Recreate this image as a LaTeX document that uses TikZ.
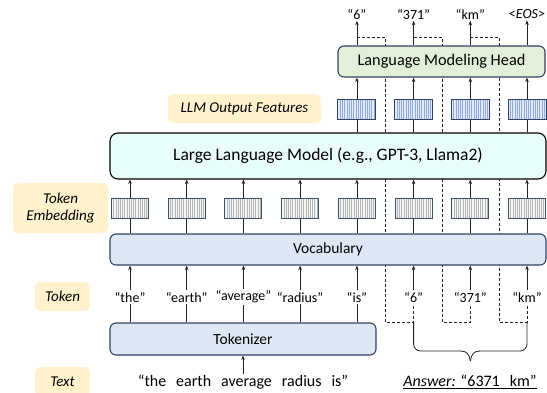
\documentclass[tikz,border=0pt]{standalone}
\usepackage{fontspec}
\setmainfont{Carlito}
\usetikzlibrary{arrows.meta,calc}
\definecolor{ylw}{HTML}{FFF2CC}
\definecolor{headfill}{HTML}{E2F0D9}
\definecolor{llmfill}{HTML}{E9FDFB}
\definecolor{vocfill}{HTML}{DEE7F4}
\definecolor{navy}{HTML}{2F4366}
\definecolor{featfill}{HTML}{E4EBF8}
\definecolor{featline}{HTML}{8FA9DA}
\definecolor{embfill}{HTML}{F6F6F6}
\definecolor{embline}{HTML}{B4B4B4}
\definecolor{lnk}{HTML}{222222}
\pgfdeclarelayer{bg}
\pgfsetlayers{bg,main}
\begin{document}
\begin{tikzpicture}[x=1pt,y=-1pt,
  lab/.style={fill=ylw,rounded corners=5pt,inner sep=0pt,align=center,font=\fontsize{15}{18}\selectfont\itshape},
  bigbox/.style={draw=navy,line width=1.1pt,rounded corners=6pt,inner sep=0pt,font=\fontsize{15.5}{18}\selectfont},
  featbox/.style={draw=navy,line width=0.9pt,fill=featfill,minimum width=38pt,minimum height=20pt,inner sep=0pt,
    path picture={\foreach \k in {1,...,16} \draw[featline,line width=0.45pt] ([xshift=\k*2.25pt]path picture bounding box.south west) -- ++(0pt,30pt);}},
  embbox/.style={draw=navy!80!gray,line width=0.9pt,fill=embfill,minimum width=37pt,minimum height=20pt,inner sep=0pt,
    path picture={\foreach \k in {1,...,16} \draw[embline,line width=0.45pt] ([xshift=\k*2.2pt]path picture bounding box.south west) -- ++(0pt,30pt);}},
  toklab/.style={inner sep=1.5pt,font=\fontsize{14}{16}\selectfont},
  toplab/.style={inner sep=1.5pt,font=\fontsize{14}{16}\selectfont},
  arr/.style={lnk,line width=0.8pt,-{Stealth[length=4.5pt,width=3.5pt]}},
  ln/.style={lnk,line width=0.8pt},
  dsh/.style={lnk,line width=0.8pt,dash pattern=on 3pt off 2pt}
]
\useasboundingbox (0,0) rectangle (547,392);
\path[clip] (0,0) rectangle (547,392);

% columns
\foreach \i/\x in {1/130,2/186.7,3/243.4,4/300.1,5/356.9,6/413.6,7/470.3,8/527}
  \coordinate (c\i) at (\x,0);

% left labels
\node[lab,minimum width=153pt,minimum height=29pt] (lof) at (244.5,108.5) {LLM Output Features};
\node[lab,minimum width=95pt,minimum height=50pt] (lemb) at (60.5,208) {Token\\[-1pt]Embedding};
\node[lab,minimum width=55pt,minimum height=29pt] (ltok) at (62.5,296.5) {Token};
\node[lab,minimum width=55pt,minimum height=29pt] (ltxt) at (62.5,381.5) {Text};

% big boxes
\node[bigbox,fill=headfill,minimum width=207pt,minimum height=31pt,font=\fontsize{16.3}{18}\selectfont] (head) at (441.5,61.5) {Language Modeling Head};
\node[bigbox,draw=black,fill=llmfill,rounded corners=8pt,minimum width=436pt,minimum height=46pt,font=\fontsize{17.5}{20}\selectfont] (llm) at (328,156) {Large Language Model (e.g., GPT-3, Llama2)};
\node[bigbox,fill=vocfill,minimum width=436pt,minimum height=31pt] (voc) at (328,249.5) {Vocabulary};
\node[bigbox,fill=vocfill,minimum width=266pt,minimum height=32pt] (tokz) at (243,339) {Tokenizer};

% feature boxes
\foreach \i in {5,...,8} \node[featbox] (f\i) at (c\i |- 0,109) {};
% embedding boxes
\foreach \i in {1,...,8} \node[embbox] (e\i) at (c\i |- 0,208) {};

% token labels
\foreach \i/\t in {1/the,2/earth,3/average,4/radius,5/is,6/6,7/371,8/km}
  \node[toklab] (t\i) at (c\i |- 0,297) {“\t”};
% top labels
\foreach \i/\t in {5/“6”,6/“371”,7/“km”,8/<\textit{EOS}>}
  \node[toplab] (o\i) at (c\i |- 0,14) {\t};

% text and answer
\node[inner sep=1pt,font=\fontsize{16}{18}\selectfont] (txt) at (243,382) {“the\hspace{10pt}earth\hspace{10pt}average\hspace{10pt}radius\hspace{10pt}is”};
\node[inner sep=1pt,font=\fontsize{16}{18}\selectfont] (ans) at (470,382) {\underline{\textit{Answer:} “6371\hspace{10pt}km”}};

\begin{pgfonlayer}{bg}
  % vocab -> llm
  \foreach \i in {1,...,8} \draw[arr] (voc.north -| c\i) -- (llm.south -| c\i);
  % llm -> head
  \foreach \i in {5,...,8} \draw[arr] (llm.north -| c\i) -- (head.south -| c\i);
  % head -> outputs
  \foreach \i in {5,...,8} \draw[arr] (head.north -| c\i) -- (o\i.south);
  % tokens -> vocab
  \foreach \i in {1,...,8} \draw[arr] (t\i.north) -- (voc.south -| c\i);
  % tokenizer -> tokens
  \foreach \i in {1,...,5} \draw[ln] (tokz.north -| c\i) -- (t\i.south);
  % text -> tokenizer
  \draw[arr] (txt.north -| tokz.south) -- (tokz.south);
  % feedback dashed loops
  \foreach \i/\j/\x in {5/6/385,6/7/442,7/8/499}{
    \coordinate (a\i) at (c\i |- 0,37);
    \coordinate (b\i) at (\x,322);
    \draw[dsh] (a\i) -| (b\i) -- (b\i -| c\j) -- (t\j.south);
  }
  % brace
  \coordinate (bl) at (c6 |- 0,322);
  \coordinate (br) at (c8 |- 0,322);
  \coordinate (bt) at (c7 |- 0,361);
  \draw[ln,rounded corners=7pt] (bl) -- ++(0,29) -- ($(bt)+(-9,-10)$);
  \draw[ln] ($(bt)+(-9.5,-10)$) .. controls ($(bt)+(-3,-10)$) and ($(bt)+(-1,-6)$) .. (bt);
  \draw[ln] ($(bt)+(9.5,-10)$) .. controls ($(bt)+(3,-10)$) and ($(bt)+(1,-6)$) .. (bt);
  \draw[ln,rounded corners=7pt] (br) -- ++(0,29) -- ($(bt)+(9,-10)$);
\end{pgfonlayer}
\end{tikzpicture}
\end{document}
